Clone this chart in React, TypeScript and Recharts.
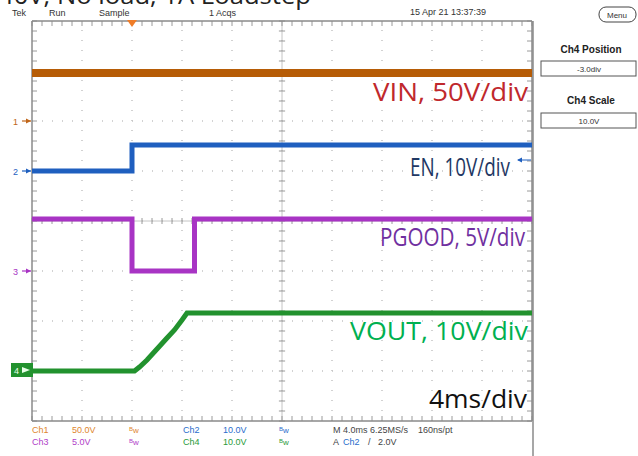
import { Line, LineChart, ReferenceLine, XAxis, YAxis } from "recharts";

// time in ms (trigger at 0), values in volts
const VIN_T = [-8, 32];
const VIN_V = [48, 48];
const EN_T = [-8, 0, 0, 32];
const EN_V = [0, 0, 5.2, 5.2];
const PG_T = [-8, 0, 0, 5, 5, 32];
const PG_V = [5.2, 5.2, 0, 0, 5.2, 5.2];
const VOUT_T = [-8, 0.2, 0.6, 1.2, 2.0, 2.8, 3.4, 4.0, 4.4, 32];
const VOUT_V = [0, 0, 0.8, 2.2, 4.4, 6.6, 8.2, 10.2, 11.6, 11.6];

// channel settings: position (div) and scale (V/div)
const CHANNELS = [
  { key: "vin", t: VIN_T, v: VIN_V, pos: 2, scale: 50, color: "#b65c06", width: 8 },
  { key: "en", t: EN_T, v: EN_V, pos: 1, scale: 10, color: "#1f5fbf", width: 5 },
  { key: "pg", t: PG_T, v: PG_V, pos: -1, scale: 5, color: "#a834c4", width: 5 },
  { key: "vout", t: VOUT_T, v: VOUT_V, pos: -3, scale: 10, color: "#22922e", width: 5 },
];

const X_DIVS = [-8, -4, 0, 4, 8, 12, 16, 20, 24, 28, 32];
const Y_DIVS = [-4, -3, -2, -1, 0, 1, 2, 3, 4];
const X_CENTER = 12;

const xMinor: number[] = [];
for (let i = 0; i <= 50; i++) xMinor.push(-8 + i * 0.8);
const yMinor: number[] = [];
for (let i = 0; i <= 40; i++) yMinor.push(-4 + i * 0.2);

const small = { fontFamily: "'Liberation Sans', Arial, sans-serif", fontSize: 9 };
const big = { fontFamily: "'Open Sans', sans-serif", fontSize: 26 };

function Bw({ x, y, color }: { x: number; y: number; color: string }) {
  return (
    <text x={x} y={y} fill={color} style={{ ...small, fontSize: 8 }}>
      <tspan fontSize={6} dy={-2}>B</tspan>
      <tspan dy={2}>w</tspan>
    </text>
  );
}

function Overlay() {
  const markers = [
    { n: "1", y: 121, color: "#c0661a" },
    { n: "2", y: 171, color: "#1f5fbf" },
    { n: "3", y: 271, color: "#a834c4" },
  ];
  return (
    <svg width={638} height={456} style={{ position: "absolute", left: 0, top: 0, pointerEvents: "none" }}>
      <text x={-1} y={4} textLength={312} lengthAdjust="spacingAndGlyphs" style={{ ...big, fontSize: 24 }} fill="#222">
        40V, No load, 1A Loadstep
      </text>
      <g style={small} fill="#333">
        <text x={12} y={16}>Tek</text>
        <text x={49} y={16}>Run</text>
        <text x={99} y={16}>Sample</text>
        <text x={209} y={16}>1 Acqs</text>
        <text x={410} y={15}>15 Apr 21 13:37:39</text>
      </g>
      <polygon points="127,20 137,20 132,27" fill="#f07d28" />
      <line x1={533} y1={21} x2={533} y2={456} stroke="#8a8a8a" strokeWidth={1.5} />

      <rect x={599} y={7} width={37} height={15} rx={7} fill="none" stroke="#444" />
      <text x={617} y={18} textAnchor="middle" style={{ ...small, fontSize: 8 }} fill="#333">Menu</text>
      <text x={591} y={53} textAnchor="middle" style={{ ...small, fontWeight: "bold", fontSize: 10 }} fill="#222">Ch4 Position</text>
      <rect x={541} y={61} width={95} height={15} fill="#fff" stroke="#555" />
      <text x={589} y={72} textAnchor="middle" style={{ ...small, fontSize: 8 }} fill="#333">-3.0div</text>
      <text x={591} y={104} textAnchor="middle" style={{ ...small, fontWeight: "bold", fontSize: 10 }} fill="#222">Ch4 Scale</text>
      <rect x={541} y={113} width={95} height={15} fill="#fff" stroke="#555" />
      <text x={589} y={124} textAnchor="middle" style={{ ...small, fontSize: 8 }} fill="#333">10.0V</text>

      {markers.map((m) => (
        <g key={m.n}>
          <text x={13} y={m.y + 3.5} style={{ ...small, fontSize: 9 }} fill={m.color}>{m.n}</text>
          <line x1={22} y1={m.y} x2={31} y2={m.y} stroke={m.color} strokeWidth={1.2} />
          <polygon points={`${26},${m.y - 2.5} ${31},${m.y} ${26},${m.y + 2.5}`} fill={m.color} />
        </g>
      ))}
      <rect x={11} y={363} width={22} height={14} fill="#22922e" />
      <text x={14} y={373.5} style={{ ...small, fontSize: 9 }} fill="#e8ffe8">4</text>
      <polygon points="22,367 30,370 22,373" fill="#e8ffe8" />

      <line x1={518} y1={160} x2={531} y2={160} stroke="#1f5fbf" strokeWidth={1} />
      <polygon points="517,160 522,157.5 522,162.5" fill="#1f5fbf" />

      <text x={528} y={101} textAnchor="end" textLength={155} lengthAdjust="spacingAndGlyphs" style={big} fill="#c0282c">VIN, 50V/div</text>
      <text x={510} y={176} textAnchor="end" textLength={100} lengthAdjust="spacingAndGlyphs" style={big} fill="#1f3864">EN, 10V/div</text>
      <text x={525} y={246} textAnchor="end" textLength={145} lengthAdjust="spacingAndGlyphs" style={big} fill="#7030a0">PGOOD, 5V/div</text>
      <text x={528} y={340} textAnchor="end" textLength={178} lengthAdjust="spacingAndGlyphs" style={big} fill="#00b050">VOUT, 10V/div</text>
      <text x={527} y={408} textAnchor="end" textLength={98} lengthAdjust="spacingAndGlyphs" style={big} fill="#111">4ms/div</text>

      <g style={small}>
        <text x={32} y={433} fill="#e0862e">Ch1</text>
        <text x={72} y={433} fill="#e0862e">50.0V</text>
        <Bw x={129} y={433} color="#e0862e" />
        <text x={183} y={433} fill="#2a6ccc">Ch2</text>
        <text x={223} y={433} fill="#2a6ccc">10.0V</text>
        <Bw x={279} y={433} color="#2a6ccc" />
        <text x={333} y={433} fill="#444">M 4.0ms 6.25MS/s</text>
        <text x={418} y={433} fill="#444">160ns/pt</text>
        <text x={32} y={445} fill="#b040c8">Ch3</text>
        <text x={72} y={445} fill="#b040c8">5.0V</text>
        <Bw x={129} y={445} color="#b040c8" />
        <text x={183} y={445} fill="#2a9a3a">Ch4</text>
        <text x={223} y={445} fill="#2a9a3a">10.0V</text>
        <Bw x={279} y={445} color="#2a9a3a" />
        <text x={333} y={445} fill="#444">A</text>
        <text x={343} y={445} fill="#2a6ccc">Ch2</text>
        <text x={368} y={445} fill="#444">/</text>
        <text x={378} y={445} fill="#444">2.0V</text>
      </g>
    </svg>
  );
}

export default function App() {
  const grid = "#c4c4c4";
  const tick = "#9a9a9a";
  return (
    <div style={{ position: "absolute", left: 0, top: 0, width: 638, height: 456, background: "#fff", overflow: "hidden" }}>
      <LineChart width={638} height={456} margin={{ top: 21, right: 106, bottom: 35, left: 32 }}>
        <XAxis type="number" dataKey="t" domain={[-8, 32]} hide allowDuplicatedCategory={false} />
        <YAxis type="number" domain={[-4, 4]} hide />
        {X_DIVS.slice(1, -1).map((x) => (
          <ReferenceLine key={"gx" + x} x={x} stroke={grid} strokeWidth={1.5} strokeDasharray="1 9" />
        ))}
        {Y_DIVS.slice(1, -1).map((y) => (
          <ReferenceLine key={"gy" + y} y={y} stroke={grid} strokeWidth={1.5} strokeDasharray="1 9" />
        ))}
        <ReferenceLine x={X_CENTER} stroke={grid} strokeWidth={1} />
        <ReferenceLine y={0} stroke={grid} strokeWidth={1} />
        {xMinor.map((x) => (
          <ReferenceLine key={"tt" + x} segment={[{ x, y: 4 }, { x, y: 3.9 }]} stroke={tick} />
        ))}
        {xMinor.map((x) => (
          <ReferenceLine key={"tb" + x} segment={[{ x, y: -4 }, { x, y: -3.9 }]} stroke={tick} />
        ))}
        {xMinor.map((x) => (
          <ReferenceLine key={"tc" + x} segment={[{ x, y: -0.06 }, { x, y: 0.06 }]} stroke={tick} />
        ))}
        {yMinor.map((y) => (
          <ReferenceLine key={"tl" + y} segment={[{ x: -8, y }, { x: -7.6, y }]} stroke={tick} />
        ))}
        {yMinor.map((y) => (
          <ReferenceLine key={"tr" + y} segment={[{ x: 32, y }, { x: 31.6, y }]} stroke={tick} />
        ))}
        {yMinor.map((y) => (
          <ReferenceLine key={"tm" + y} segment={[{ x: X_CENTER - 0.25, y }, { x: X_CENTER + 0.25, y }]} stroke={tick} />
        ))}
        <ReferenceLine x={-8} stroke="#8a8a8a" strokeWidth={1.5} />
        <ReferenceLine x={32} stroke="#8a8a8a" strokeWidth={1.5} />
        <ReferenceLine y={4} stroke="#8a8a8a" strokeWidth={1.5} />
        <ReferenceLine y={-4} stroke="#8a8a8a" strokeWidth={1.5} />
        {CHANNELS.map((ch) => (
          <Line
            key={ch.key}
            data={ch.t.map((t, i) => ({ t, v: ch.v[i] }))}
            dataKey={(d: { v: number }) => ch.pos + d.v / ch.scale}
            type="linear"
            stroke={ch.color}
            strokeWidth={ch.width}
            dot={false}
            activeDot={false}
            isAnimationActive={false}
          />
        ))}
      </LineChart>
      <Overlay />
    </div>
  );
}
